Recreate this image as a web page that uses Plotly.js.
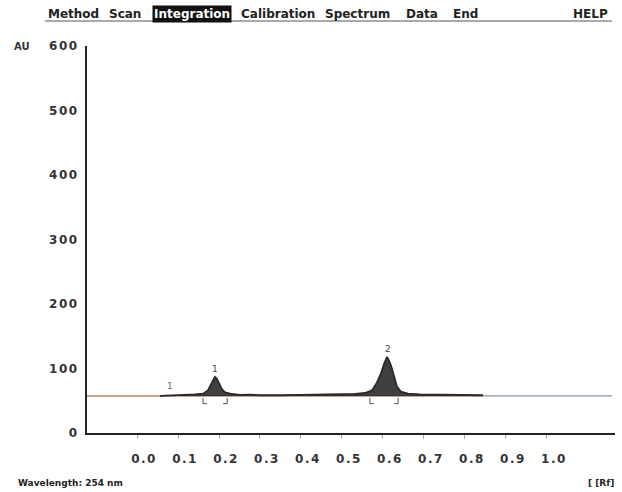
<!DOCTYPE html>
<html>
<head>
<meta charset="utf-8">
<script src="https://cdn.plot.ly/plotly-3.0.1.min.js"></script>
<style>
html,body{margin:0;padding:0;background:#fff;}
#chart .xtick text, #chart .ytick text { letter-spacing: 1.5px; }
</style>
</head>
<body>
<div id="chart" style="width:622px;height:492px;"></div>
<script>
// ---- data ----
var tickRf = [0.0, 0.1, 0.2, 0.3, 0.4, 0.5, 0.6, 0.7, 0.8, 0.9, 1.0];
var tickLabels = ['0.0','0.1','0.2','0.3','0.4','0.5','0.6','0.7','0.8','0.9','1.0'];
var yTicks = [0, 100, 200, 300, 400, 500, 600];
var signalRf = [0.056,0.080,0.117,0.141,0.161,0.173,0.180,0.185,0.190,0.195,0.200,0.207,0.215,0.227,0.251,0.276,0.300,0.324,0.349,0.398,0.446,0.495,0.532,0.556,0.573,0.585,0.595,0.602,0.610,0.615,0.620,0.627,0.634,0.644,0.661,0.690,0.739,0.788,0.844];
var signalAU = [57.5,58,58.5,60,61,66,75,82,87,84,78,68,63,61,59,59.5,58.5,59,58.5,59,59.5,60,60.5,62,66,78,92,106,118,112,104,88,72,64,61,60,59.5,59,58.5];
var baselineAU = 57.5;
var baselineRf = [-0.122, 0.844];
var tailRf = [0.844, 1.159];
var peakNames = ['1', '2'];
var peakRf = [0.190, 0.612];
var peakLabelAU = [99, 131];
var startMarkRf = 0.080;
var startMarkAU = 73;
var integStart = [0.161, 0.568];
var integEnd = [0.220, 0.637];
var menuWords = ['Method', 'Scan', 'Integration', 'Calibration', 'Spectrum', 'Data', 'End', 'HELP'];
var menuCenters = [73, 125, 192, 278, 357, 422, 465, 590];

// ---- helpers ----
var L = 87, R = 7, T = 46, B = 59, W = 622, H = 492;
function px(x) { return (x - L) / (W - L - R); }
function py(y) { return (H - B - y) / (H - T - B); }
var FONT = 'DejaVu Sans, Verdana, sans-serif';

var traces = [
  { x: baselineRf, y: [baselineAU, baselineAU], mode: 'lines', line: { color: '#b8856c', width: 1.5 }, hoverinfo: 'skip' },
  { x: tailRf, y: [baselineAU, baselineAU], mode: 'lines', line: { color: '#8596a4', width: 1.3 }, hoverinfo: 'skip' },
  { x: [signalRf[0], signalRf[signalRf.length-1]], y: [baselineAU, baselineAU], mode: 'lines', line: { color: 'rgba(0,0,0,0)', width: 0 }, hoverinfo: 'skip' },
  { x: signalRf, y: signalAU, mode: 'lines', fill: 'tonexty', fillcolor: 'rgba(30,30,30,0.85)', line: { color: '#2a2a2a', width: 1.8 }, hoverinfo: 'skip' }
];

var shapes = [];
for (var i = 0; i < integStart.length; i++) {
  shapes.push({ type: 'path', xref: 'x', yref: 'y', path: 'M' + integStart[i] + ',' + (baselineAU - 3) + ' L' + integStart[i] + ',' + (baselineAU - 12) + ' L' + (integStart[i] + 0.01) + ',' + (baselineAU - 12), line: { color: '#555', width: 1 } });
  shapes.push({ type: 'path', xref: 'x', yref: 'y', path: 'M' + integEnd[i] + ',' + (baselineAU - 3) + ' L' + integEnd[i] + ',' + (baselineAU - 12) + ' L' + (integEnd[i] - 0.01) + ',' + (baselineAU - 12), line: { color: '#555', width: 1 } });
}
// menu underline
shapes.push({ type: 'line', xref: 'paper', yref: 'paper', x0: px(45), x1: px(612), y0: py(21), y1: py(21), line: { color: '#555', width: 1 } });

var annotations = [];
for (var j = 0; j < menuWords.length; j++) {
  var hi = menuWords[j] === 'Integration';
  annotations.push({ xref: 'paper', yref: 'paper', x: px(menuCenters[j]), y: py(14), text: '<b>' + menuWords[j] + '</b>', showarrow: false, xanchor: 'center', yanchor: 'middle',
    font: { family: FONT, size: 12, color: hi ? '#fff' : '#222' }, bgcolor: hi ? '#111' : 'rgba(0,0,0,0)', borderpad: hi ? 1 : 0 });
}
for (var k = 0; k < peakNames.length; k++) {
  annotations.push({ xref: 'x', yref: 'y', x: peakRf[k], y: peakLabelAU[k], text: peakNames[k], showarrow: false, font: { family: FONT, size: 9, color: '#444' } });
}
annotations.push({ xref: 'x', yref: 'y', x: startMarkRf, y: startMarkAU, text: '1', showarrow: false, font: { family: FONT, size: 9, color: '#666' } });
annotations.push({ xref: 'paper', yref: 'paper', x: px(12), y: py(47), text: '<b>AU</b>', showarrow: false, xanchor: 'left', yanchor: 'middle', font: { family: FONT, size: 10, color: '#333' } });
annotations.push({ xref: 'paper', yref: 'paper', x: px(16), y: py(483), text: '<b>Wavelength: 254 nm</b>', showarrow: false, xanchor: 'left', yanchor: 'middle', font: { family: FONT, size: 9, color: '#222' } });
annotations.push({ xref: 'paper', yref: 'paper', x: px(616), y: py(483), text: '<b>[ [Rf]</b>', showarrow: false, xanchor: 'right', yanchor: 'middle', font: { family: FONT, size: 9, color: '#222' } });

var layout = {
  width: W, height: H,
  margin: { l: L, r: R, t: T, b: B, pad: 0 },
  paper_bgcolor: '#fff', plot_bgcolor: '#fff',
  showlegend: false,
  xaxis: { range: [-0.122, 1.166], tickvals: tickRf, ticktext: tickLabels, showgrid: false, zeroline: false,
    showline: true, linecolor: '#222', linewidth: 2, ticks: 'outside', ticklen: 4, tickcolor: '#aaa', tickwidth: 1,
    ticklabelshift: 7, ticklabelstandoff: 10,
    tickfont: { family: FONT, size: 12, color: '#333', weight: 700 } },
  yaxis: { range: [0, 600], tickvals: yTicks, showgrid: false, zeroline: false,
    showline: true, linecolor: '#222', linewidth: 2, ticks: '', ticklabelstandoff: 4,
    tickfont: { family: FONT, size: 12, color: '#333', weight: 700 } },
  shapes: shapes,
  annotations: annotations
};

Plotly.newPlot('chart', traces, layout, { displayModeBar: false, staticPlot: true });
</script>
</body>
</html>
